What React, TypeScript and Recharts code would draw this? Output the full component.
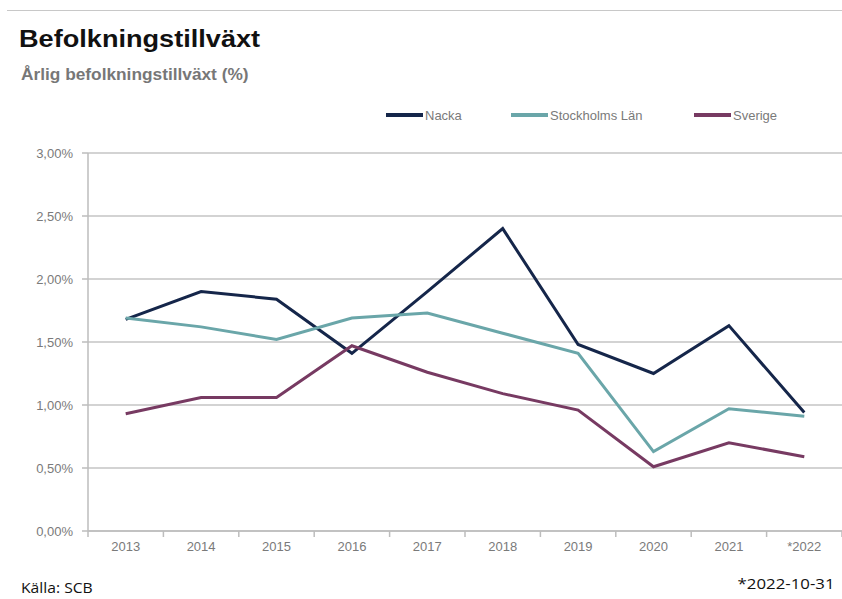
import React from 'react';
import { LineChart, Line, XAxis, YAxis, CartesianGrid } from 'recharts';

const years = ['2013', '2014', '2015', '2016', '2017', '2018', '2019', '2020', '2021', '*2022'];
const nacka = [1.68, 1.9, 1.84, 1.41, 1.9, 2.4, 1.48, 1.25, 1.63, 0.94];
const stockholm = [1.69, 1.62, 1.52, 1.69, 1.73, 1.57, 1.41, 0.63, 0.97, 0.91];
const sverige = [0.93, 1.06, 1.06, 1.47, 1.26, 1.09, 0.96, 0.51, 0.7, 0.59];
const yTicks = [0, 0.5, 1, 1.5, 2, 2.5, 3];

const seriesNames = ['Nacka', 'Stockholms Län', 'Sverige'];
const colors = ['#15264a', '#6aa6a9', '#773a62'];

const data = years.map((y, i) => ({
  year: y,
  Nacka: nacka[i],
  'Stockholms Län': stockholm[i],
  Sverige: sverige[i],
}));

const W = 842;
const H = 599;
const LEFT = 88;
const RIGHT_MARGIN = 0;
const BAND = (W - LEFT - RIGHT_MARGIN) / years.length;
const FONT = '"Liberation Sans", Arial, sans-serif';
const GRAY_TEXT = '#7a7a7a';
const AXIS = '#bdbdbd';

const XTick = (props: any) => {
  const { x, y, payload, index } = props;
  const last = index === years.length - 1;
  return (
    <g>
      <line x1={x - BAND / 2} y1={y} x2={x - BAND / 2} y2={y + 6} stroke={AXIS} strokeWidth={1.5} />
      {last && <line x1={x + BAND / 2} y1={y} x2={x + BAND / 2} y2={y + 6} stroke={AXIS} strokeWidth={1.5} />}
      <text x={x} y={y + 20} textAnchor="middle" fill={GRAY_TEXT} fontSize={13} fontFamily={FONT}>
        {payload.value}
      </text>
    </g>
  );
};

const legendPos = [386, 511, 694];

export default function App() {
  return (
    <div style={{ position: 'absolute', left: 0, top: 0, width: W, height: H, background: '#fff', overflow: 'hidden' }}>
      <div style={{ position: 'absolute', left: 7, top: 10, width: W - 7, height: 0, borderTop: '1.5px solid #c8c8c8' }} />
      <div
        style={{
          position: 'absolute',
          left: 19,
          top: 27,
          fontFamily: FONT,
          fontWeight: 'bold',
          fontSize: 24,
          lineHeight: 1,
          color: '#111',
          whiteSpace: 'nowrap',
          transform: 'scaleX(1.13)',
          transformOrigin: 'left center',
        }}
      >
        Befolkningstillväxt
      </div>
      <div
        style={{
          position: 'absolute',
          left: 21,
          top: 67,
          fontFamily: FONT,
          fontWeight: 'bold',
          fontSize: 16,
          lineHeight: 1,
          color: '#777',
          whiteSpace: 'nowrap',
          transform: 'scaleX(1.08)',
          transformOrigin: 'left center',
        }}
      >
        Årlig befolkningstillväxt (%)
      </div>
      <LineChart
        width={W}
        height={H}
        data={data}
        margin={{ top: 153, right: RIGHT_MARGIN, bottom: 38, left: 0 }}
      >
        <CartesianGrid horizontal vertical={false} stroke="#c4c4c4" strokeWidth={1.5} />
        <XAxis
          dataKey="year"
          scale="band"
          height={30}
          axisLine={{ stroke: AXIS, strokeWidth: 1.5 }}
          tickLine={false}
          tickSize={0}
          tickMargin={0}
          tick={<XTick />}
          interval={0}
        />
        <YAxis
          width={LEFT}
          domain={[0, 3]}
          ticks={yTicks}
          axisLine={{ stroke: AXIS, strokeWidth: 1.5 }}
          tickLine={{ stroke: AXIS, strokeWidth: 1.5 }}
          tickSize={6}
          tickMargin={9}
          tick={{ fill: GRAY_TEXT, fontSize: 13, fontFamily: FONT }}
          tickFormatter={(v: number) => v.toFixed(2).replace('.', ',') + '%'}
        />
        {seriesNames.map((n, i) => (
          <Line
            key={n}
            type="linear"
            dataKey={n}
            stroke={colors[i]}
            strokeWidth={3}
            dot={false}
            activeDot={false}
            isAnimationActive={false}
          />
        ))}
      </LineChart>
      {seriesNames.map((n, i) => (
        <div
          key={n}
          style={{
            position: 'absolute',
            left: legendPos[i],
            top: 107,
            height: 16,
            display: 'flex',
            alignItems: 'center',
            fontFamily: FONT,
            fontSize: 13,
            lineHeight: 1,
            color: GRAY_TEXT,
            whiteSpace: 'nowrap',
          }}
        >
          <span style={{ display: 'inline-block', width: 37, height: 3.5, background: colors[i], marginRight: 2 }} />
          <span>{n}</span>
        </div>
      ))}
      <div
        style={{
          position: 'absolute',
          left: 21,
          top: 578,
          fontFamily: '"Open Sans", sans-serif',
          fontSize: 14,
          color: '#111',
          transform: 'scaleX(1.12)',
          transformOrigin: 'left center',
          whiteSpace: 'nowrap',
        }}
      >
        Källa: SCB
      </div>
      <div
        style={{
          position: 'absolute',
          right: 7,
          top: 573,
          fontFamily: '"Open Sans", sans-serif',
          fontSize: 15,
          color: '#111',
          transform: 'scaleX(1.12)',
          transformOrigin: 'right center',
          whiteSpace: 'nowrap',
        }}
      >
        *2022-10-31
      </div>
    </div>
  );
}
